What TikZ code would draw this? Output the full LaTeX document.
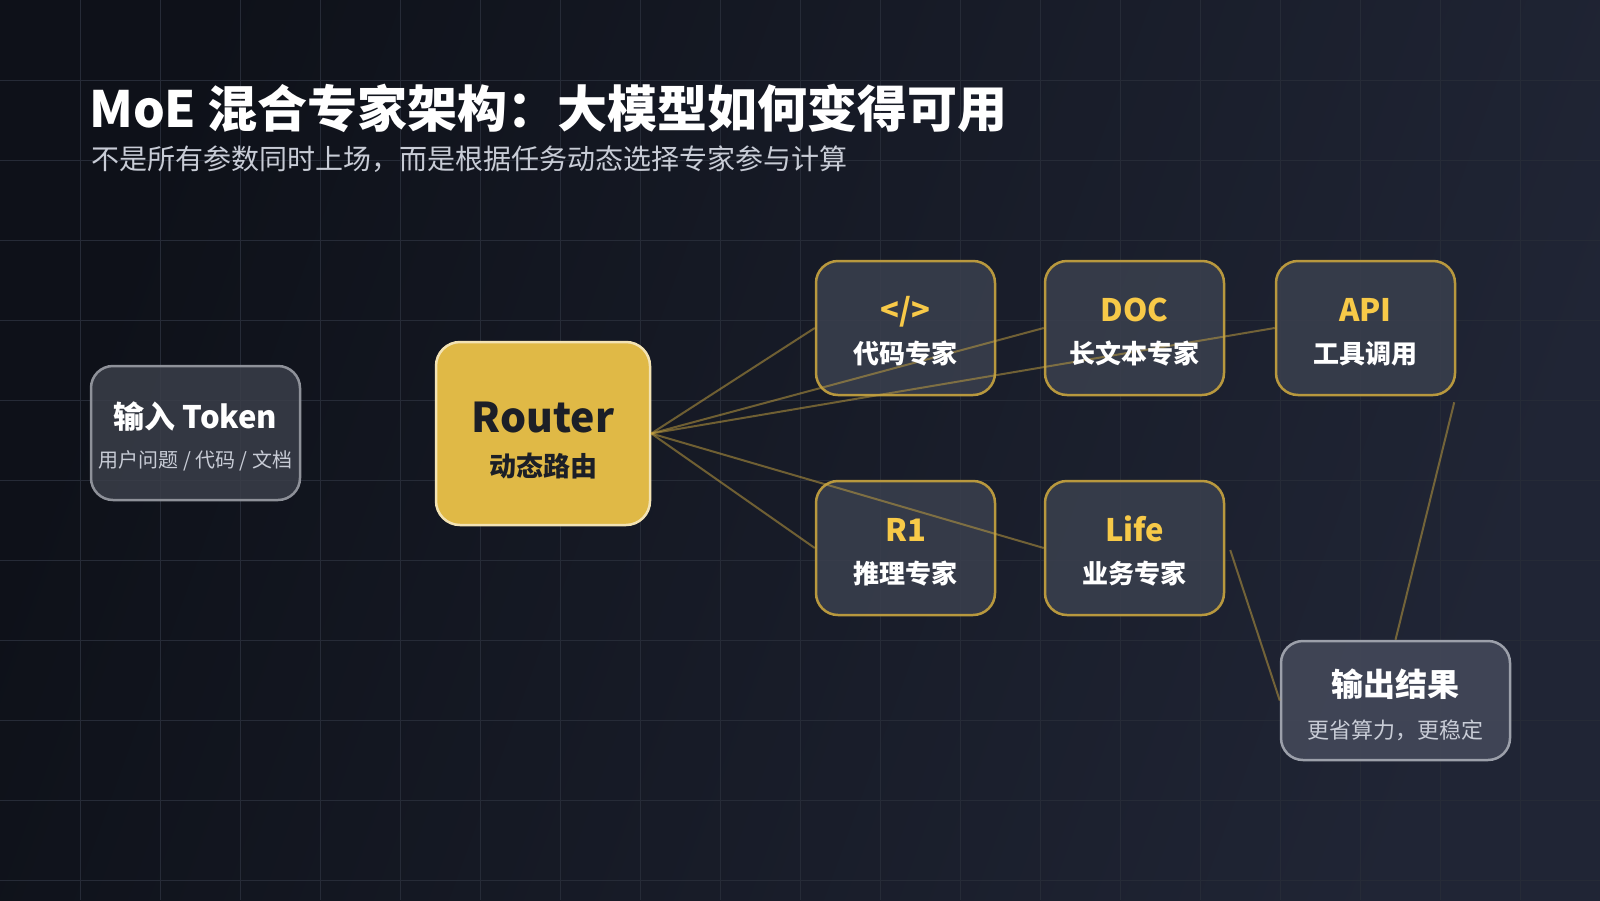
\documentclass[tikz,border=0pt]{standalone}
\usepackage{fontspec}
\setmainfont{Noto Sans CJK SC}
\usetikzlibrary{calc}
\definecolor{bgA}{HTML}{0E1119}
\definecolor{bgB}{HTML}{202535}
\definecolor{gridc}{HTML}{262B37}
\definecolor{expfill}{HTML}{3A404E}
\definecolor{expline}{HTML}{B8983E}
\definecolor{goldtxt}{HTML}{F7C948}
\definecolor{routfill}{HTML}{E0B946}
\definecolor{routline}{HTML}{F3E3B4}
\definecolor{routtxt}{HTML}{1C1F27}
\definecolor{infill}{HTML}{3A3E49}
\definecolor{inline}{HTML}{8E9199}
\definecolor{outfill}{HTML}{454A5B}
\definecolor{outline}{HTML}{9CA0AA}
\definecolor{subgray}{HTML}{C8CCD6}
\definecolor{conn}{HTML}{C8A440}
\begin{document}
\begin{tikzpicture}[x=1pt,y=-1pt,
  gridline/.style={draw=gridc,line width=1pt},
  box/.style={rectangle,rounded corners=22pt,line width=2.5pt,inner sep=0pt},
  expbox/.style={box,draw=expline,fill=expfill,fill opacity=0.85,minimum width=179pt,minimum height=134pt},
  inbox/.style={box,draw=inline,fill=infill,fill opacity=0.85,minimum width=209pt,minimum height=134pt},
  routbox/.style={box,rounded corners=24pt,draw=routline,fill=routfill,minimum width=214pt,minimum height=183pt},
  outbox/.style={box,draw=outline,fill=outfill,fill opacity=0.85,minimum width=229pt,minimum height=119pt},
  ttl/.style={font=\fontsize{50}{50}\selectfont\bfseries,text=white,anchor=west,inner sep=0pt,text height=36.5pt,text depth=0pt},
  subttl/.style={font=\fontsize{28}{28}\selectfont,text=subgray,anchor=west,inner sep=0pt,text height=20.4pt,text depth=0pt},
  exphead/.style={font=\fontsize{31}{31}\selectfont\bfseries,text=goldtxt,inner sep=0pt,text height=22.6pt,text depth=0pt},
  expsub/.style={font=\fontsize{26}{26}\selectfont\bfseries,text=white,inner sep=0pt,text height=19pt,text depth=0pt},
  inhead/.style={font=\fontsize{31}{31}\selectfont\bfseries,text=white,inner sep=0pt,text height=22.6pt,text depth=0pt},
  insub/.style={font=\fontsize{20}{20}\selectfont,text=subgray,inner sep=0pt,text height=14.6pt,text depth=0pt},
  routhead/.style={font=\fontsize{41}{41}\selectfont\bfseries,text=routtxt,inner sep=0pt,text height=29.9pt,text depth=0pt},
  routsub/.style={font=\fontsize{27}{27}\selectfont\bfseries,text=routtxt,inner sep=0pt,text height=19.7pt,text depth=0pt},
  outhead/.style={font=\fontsize{32}{32}\selectfont\bfseries,text=white,inner sep=0pt,text height=23.4pt,text depth=0pt},
  outsub/.style={font=\fontsize{22}{22}\selectfont,text=subgray,inner sep=0pt,text height=16.1pt,text depth=0pt},
  link/.style={draw=conn,draw opacity=0.5,line width=2pt}
]
\useasboundingbox (0,0) rectangle (1600,900);
\shade[left color=bgA,right color=bgB,shading angle=70] (0,0) rectangle (1600,900);
\foreach \gx in {80,160,...,1520} \draw[gridline] (\gx,0) -- (\gx,900);
\foreach \gy in {80,160,...,880} \draw[gridline] (0,\gy) -- (1600,\gy);

% title
\node[ttl] (title) at (89,109) {MoE 混合专家架构：大模型如何变得可用};
\node[subttl] (subtitle) at (91,159) {不是所有参数同时上场，而是根据任务动态选择专家参与计算};

% boxes
\node[inbox] (input) at (195.5,433) {};
\node[routbox] (router) at (543,433.5) {};
\node[expbox] (code) at (905.5,328) {};
\node[expbox] (doc) at (1134.5,328) {};
\node[expbox] (api) at (1365.5,328) {};
\node[expbox] (r1) at (905.5,548) {};
\node[expbox] (life) at (1134.5,548) {};
\node[outbox] (output) at (1395.5,700.5) {};

\coordinate (lifeout) at ($(life.east)+(5,2)$);
\coordinate (apiout) at ($(api.south east)+(-2,6)$);

% connectors (drawn over the boxes)
\draw[link] (router.east) -- (code.west);
\draw[link] (router.east) -- (doc.west);
\draw[link] (router.east) -- (api.west);
\draw[link] (router.east) -- (r1.west);
\draw[link] (router.east) -- (life.west);
\draw[link] (lifeout) -- (output.west);
\draw[link] (apiout) -- (output.north);

% texts
\node[inhead] (inputh) at (195.5,417) {输入 Token};
\node[insub] (inputs) at (195.5,460) {用户问题 / 代码 / 文档};
\node[routhead] (routerh) at (543,418) {Router};
\node[routsub] (routers) at (543,467) {动态路由};
\node[exphead] (codeh) at (905.5,310) {</>};
\node[expsub] (codes) at (905.5,354) {代码专家};
\node[exphead] (doch) at (1134.5,310) {DOC};
\node[expsub] (docs) at (1134.5,354) {长文本专家};
\node[exphead] (apih) at (1365.5,310) {API};
\node[expsub] (apis) at (1365.5,354) {工具调用};
\node[exphead] (r1h) at (905.5,530) {R1};
\node[expsub] (r1s) at (905.5,574) {推理专家};
\node[exphead] (lifeh) at (1134.5,530) {Life};
\node[expsub] (lifes) at (1134.5,574) {业务专家};
\node[outhead] (outputh) at (1395.5,685) {输出结果};
\node[outsub] (outputs) at (1395.5,730) {更省算力，更稳定};
\end{tikzpicture}
\end{document}
